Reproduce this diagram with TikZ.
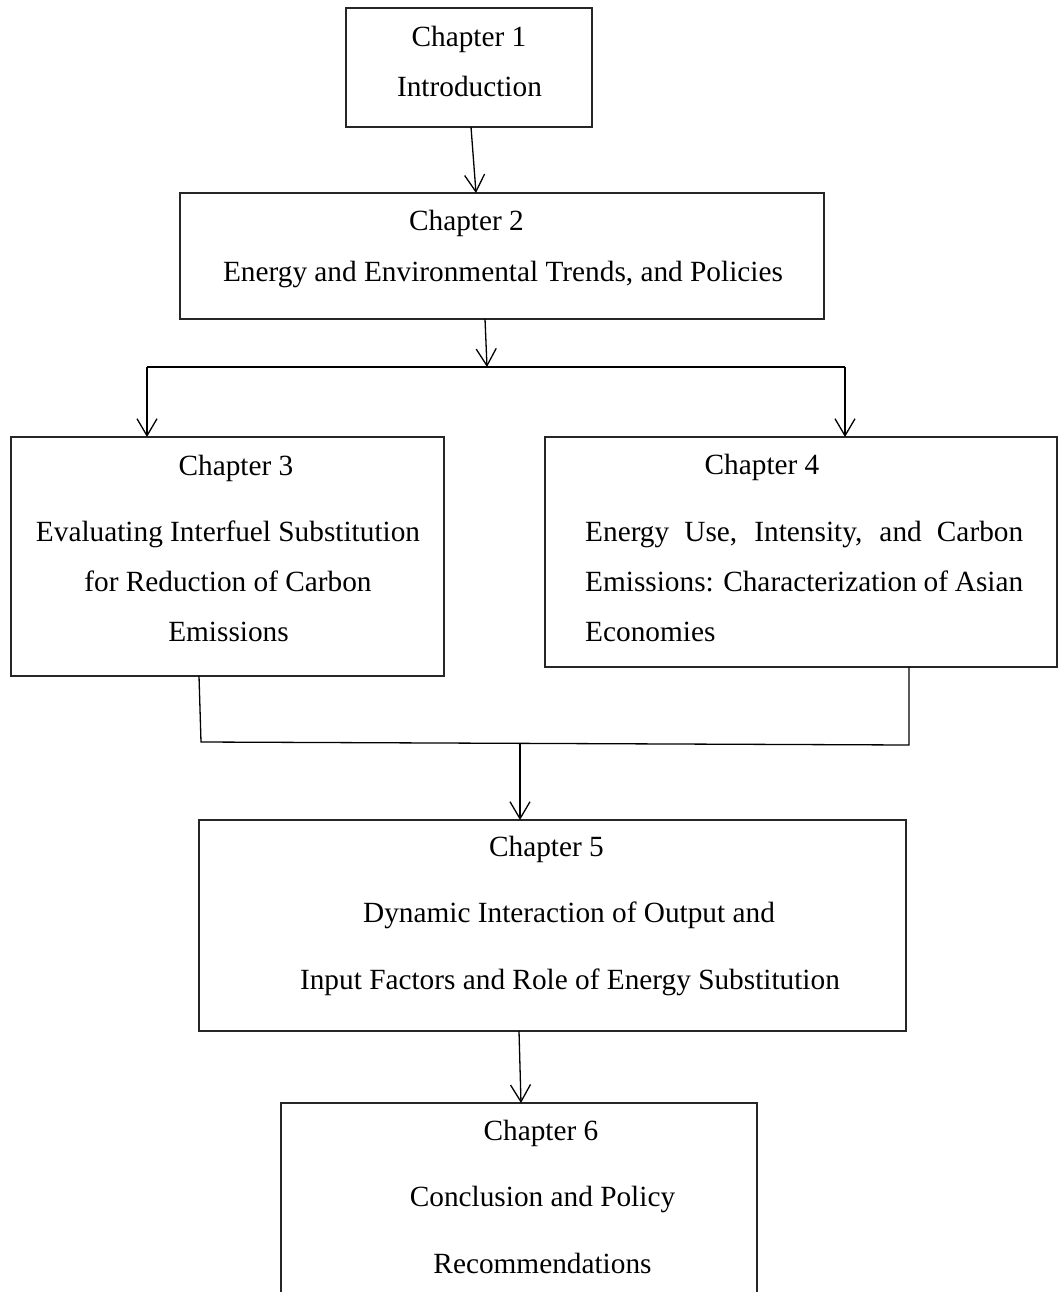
\documentclass[tikz,border=0pt]{standalone}
\usepackage{fontspec}
\setmainfont{Liberation Serif}
\usetikzlibrary{arrows.meta}
\begin{document}
\begin{tikzpicture}[x=1pt,y=-1pt,
  box/.style={draw=black!85,line width=1.3pt,rectangle,inner sep=0pt,outer sep=0pt,anchor=north west},
  txt/.style={anchor=base,inner sep=0pt,font=\fontsize{29.3}{35}\selectfont},
  conn/.style={line width=1.3pt,black},
  arr/.style={conn,-{Straight Barb[length=17pt,width=20pt,line width=1.3pt]}}]
\path[use as bounding box,clip] (0,0) rectangle (1059,1292);
\fill[white] (0,0) rectangle (1059,1292);
% boxes
\node[box,minimum width=246pt,minimum height=119pt] (b1) at (346,8) {};
\node[box,minimum width=644pt,minimum height=126pt] (b2) at (180,193) {};
\node[box,minimum width=433pt,minimum height=239pt] (b3) at (11,437) {};
\node[box,minimum width=512pt,minimum height=230pt] (b4) at (545,437) {};
\node[box,minimum width=707pt,minimum height=211pt] (b5) at (199,820) {};
\node[box,minimum width=476pt,minimum height=260pt] (b6) at (281,1103) {};
% texts
\node[txt] (t1a) at (469,47) {Chapter 1};
\node[txt] (t1b) at (469.5,97) {Introduction};
\node[txt] (t2a) at (466.5,230) {Chapter 2};
\node[txt] (t2b) at (503,281.5) {Energy and Environmental Trends, and Policies};
\node[txt] (t3a) at (236,475) {Chapter 3};
\node[txt] (t3b) at (228,541.5) {Evaluating Interfuel Substitution};
\node[txt] (t3c) at (228,591.5) {for Reduction of Carbon};
\node[txt] (t3d) at (228.5,641.5) {Emissions};
\node[txt] (t4a) at (762,474) {Chapter 4};
\node[txt,anchor=base west] (t4b) at (585,541.5) {\makebox[438pt][s]{Energy Use, Intensity, and Carbon}};
\node[txt,anchor=base west] (t4c) at (585,591.5) {\makebox[438pt][s]{Emissions: Characterization of Asian}};
\node[txt,anchor=base west] (t4d) at (585,641.5) {Economies};
\node[txt] (t5a) at (546.5,856.7) {Chapter 5};
\node[txt] (t5b) at (569,922.7) {Dynamic Interaction of Output and};
\node[txt] (t5c) at (570,989.3) {Input Factors and Role of Energy Substitution};
\node[txt] (t6a) at (541,1140.7) {Chapter 6};
\node[txt] (t6b) at (542.5,1206.7) {Conclusion and Policy};
\node[txt] (t6c) at (542.5,1273.3) {Recommendations};
% junction coordinates
\coordinate (j0) at (487,367);
\coordinate (jl) at (147,367);
\coordinate (jr) at (845,367);
\coordinate (k1) at (201,742);
\coordinate (k2) at (909,745);
\coordinate (k0) at (520,743.3);
% connectors
\draw[arr] ([xshift=2pt]b1.south) -- ([xshift=7pt]b1.south |- b2.north);
\draw[arr] ([xshift=-17pt]b2.south) -- (j0);
\draw[conn] (jl) -- (jr);
\draw[arr] (jl) -- (jl |- b3.north);
\draw[arr] (jr) -- (jr |- b4.north);
\draw[conn,line join=miter] ([xshift=-28.5pt]b3.south) -- (k1) -- (k2) -- (k2 |- b4.south);
\draw[arr] (k0) -- (k0 |- b5.north);
\draw[arr] ([xshift=-33.5pt]b5.south) -- ([xshift=2pt]b6.north);
\end{tikzpicture}
\end{document}
